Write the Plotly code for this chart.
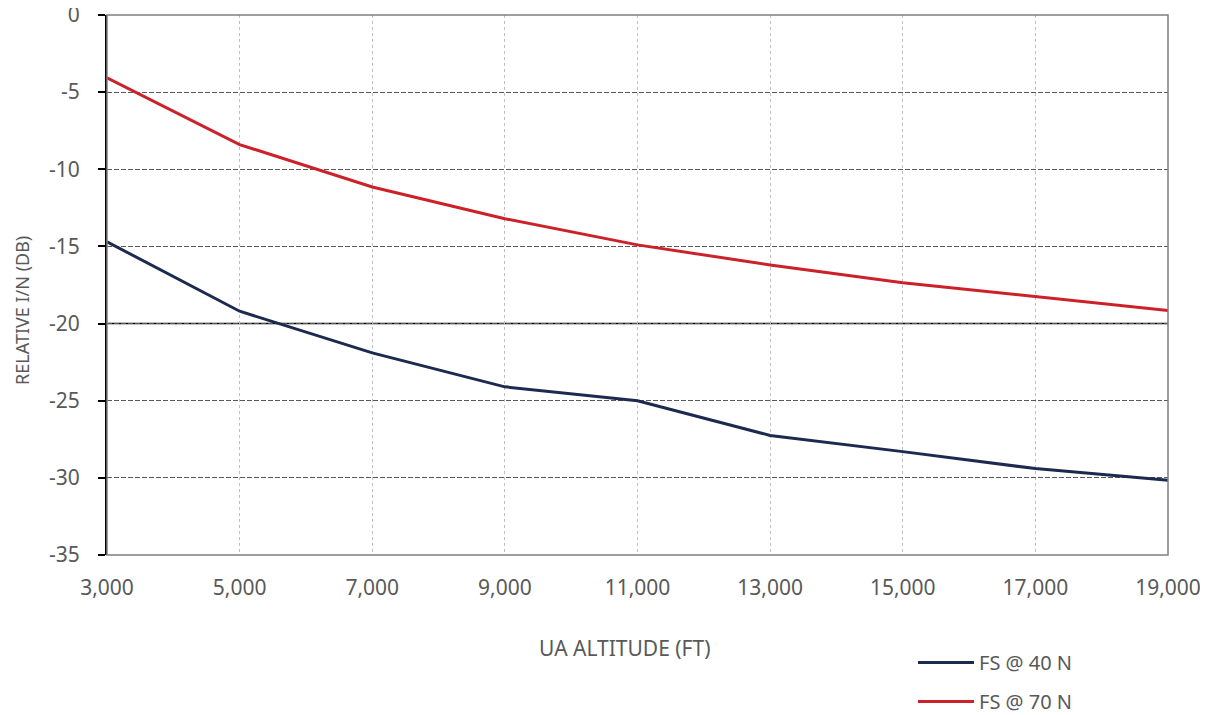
import plotly.graph_objects as go

# ---- data ----
altitude_ft = [3000, 5000, 7000, 9000, 11000, 13000, 15000, 17000, 19000]
fs_40n = [-14.7, -19.2, -21.9, -24.1, -25.0, -27.25, -28.3, -29.4, -30.15]
fs_70n = [-4.07, -8.4, -11.15, -13.2, -14.9, -16.2, -17.35, -18.27, -19.16]
series_names = ["FS @ 40 N", "FS @ 70 N"]
x_ticks = [3000, 5000, 7000, 9000, 11000, 13000, 15000, 17000, 19000]
x_tick_labels = ["3,000", "5,000", "7,000", "9,000", "11,000", "13,000", "15,000", "17,000", "19,000"]
y_ticks = [0, -5, -10, -15, -20, -25, -30, -35]
y_tick_labels = ["0", "-5", "-10", "-15", "-20", "-25", "-30", "-35"]
threshold_db = -20

FONT = "Noto Sans"
TXT = "#595959"

# page body has an 8px default margin; compensate so plot lands at the reference position
OFF = 8
PL, PR, PT, PB = 107, 1168, 15, 555          # plot area in page pixels
W, H = 1208 - OFF, 715 - OFF
PW, PH = PR - PL, PB - PT

fig = go.Figure()
fig.add_trace(go.Scatter(x=altitude_ft, y=fs_40n, mode="lines", name=series_names[0],
                         legendgroup="a", line=dict(color="#1c2a4f", width=3)))
fig.add_trace(go.Scatter(x=altitude_ft, y=fs_70n, mode="lines", name=series_names[1],
                         legendgroup="b", line=dict(color="#cc2129", width=3)))

# plot border (gray) and threshold line
fig.add_shape(type="rect", xref="x domain", yref="y domain", x0=0, x1=1, y0=0, y1=1,
              line=dict(color="#7f7f7f", width=1.5), layer="above")
fig.add_shape(type="line", xref="x domain", yref="y", x0=0, x1=1, y0=threshold_db, y1=threshold_db,
              line=dict(color="#000000", width=1.5), layer="below")

fig.update_layout(
    width=W, height=H,
    margin=dict(l=PL - OFF, r=W - (PR - OFF), t=PT - OFF, b=H - (PB - OFF), autoexpand=False),
    plot_bgcolor="white", paper_bgcolor="white",
    font=dict(family=FONT, color=TXT),
    showlegend=True,
    legend=dict(x=(913 - PL) / PW, y=-(643 - PB) / PH, xanchor="left", yanchor="top",
                font=dict(size=20, color=TXT, family=FONT), itemwidth=56,
                tracegroupgap=10, bgcolor="rgba(0,0,0,0)"),
    xaxis=dict(range=[3000, 19000], tickvals=x_ticks, ticktext=x_tick_labels,
               showgrid=True, gridcolor="#bfbfbf", griddash="3px,3px", gridwidth=1,
               showline=False, zeroline=False, ticks="", automargin=False,
               tickfont=dict(size=21, color=TXT), ticklabelstandoff=18),
    yaxis=dict(range=[-35, 0], tickvals=y_ticks, ticktext=y_tick_labels,
               showgrid=True, gridcolor="#595959", griddash="5px,2px", gridwidth=1,
               showline=True, linecolor="#000000", linewidth=2, zeroline=False,
               ticks="outside", ticklen=7, tickcolor="#000000", tickwidth=1.5, automargin=False,
               ticklabeloverflow="allow",
               tickfont=dict(size=21, color=TXT), ticklabelstandoff=14),
)

fig.add_annotation(text="UA ALTITUDE (FT)", xref="paper", yref="paper",
                   x=(625 - PL) / PW, y=-(648 - PB) / PH, showarrow=False,
                   xanchor="center", yanchor="middle", font=dict(size=21, color=TXT))
fig.add_annotation(text="RELATIVE I/N (DB)", xref="paper", yref="paper",
                   x=-(PL - 22) / PW, y=(PB - 311) / PH, showarrow=False, textangle=-90,
                   xanchor="center", yanchor="middle", font=dict(size=18, color=TXT))

fig.write_html("out.html")
